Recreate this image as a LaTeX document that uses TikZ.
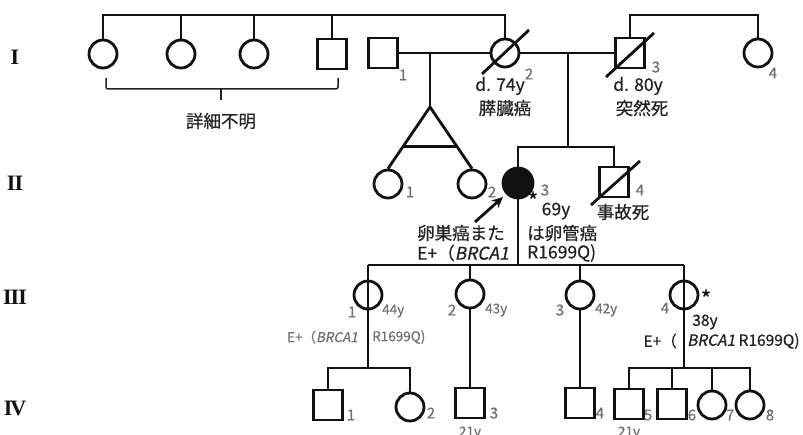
\documentclass[tikz,border=0pt]{standalone}
\usepackage{fontspec}
\setmainfont{Noto Sans CJK JP}[FakeBold=0.5]
\newfontfamily\jpit[FakeSlant=0.2,FakeBold=0.8]{Noto Sans CJK JP}
\newfontfamily\romf{Liberation Serif}
\usetikzlibrary{arrows.meta,calc}
\definecolor{ink}{HTML}{111111}
\definecolor{txt}{HTML}{222222}
\definecolor{numc}{HTML}{707070}
\tikzset{
  pline/.style={draw=ink,line width=2.8pt},
  fem/.style={circle,draw=ink,line width=2.8pt,minimum size=28pt,inner sep=0pt},
  affected/.style={circle,draw=ink,fill=ink,line width=2.8pt,minimum size=30pt,inner sep=0pt},
  male/.style={rectangle,draw=ink,line width=2.8pt,minimum width=29pt,minimum height=30pt,inner sep=0pt},
  jt/.style={font=\fontsize{17.5}{20}\selectfont,text=txt,inner sep=0pt},
  mt/.style={font=\fontsize{15.5}{18}\selectfont,text=txt,inner sep=0pt},
  sm/.style={font=\fontsize{13.5}{16}\selectfont,text=numc,inner sep=0pt},
  num/.style={font=\fontsize{15}{18}\selectfont,text=numc,inner sep=0pt},
  astk/.style={font=\fontsize{22}{22}\selectfont,text=ink,inner sep=0pt,text height=8pt,text depth=0pt},
  rowl/.style={font=\romf\bfseries\fontsize{22}{24}\selectfont,text=ink,inner sep=0pt},
  bracket/.style={draw=txt,line width=1.5pt,rounded corners=2pt},
}
\begin{document}
\begin{tikzpicture}[x=1pt,y=-1pt]
\useasboundingbox (0,0) rectangle (803,435);
\clip (0,0) rectangle (803,435);
\fill[white] (0,0) rectangle (803,435);

% generation labels
\node[rowl] (rI) at (15,57) {I};
\node[rowl] (rII) at (15,183) {I\kern-1pt I};
\node[rowl] (rIII) at (15,297) {I\kern-1pt I\kern-1pt I};
\node[rowl] (rIV) at (15,408) {I\kern-2pt V};

% ---------- generation I ----------
\node[fem] (u1) at (103,54) {};
\node[fem] (u2) at (181,54) {};
\node[fem] (u3) at (254,54) {};
\node[male] (u4) at (332,54) {};
\node[male] (i1) at (383,53) {};
\node[fem] (i2) at (505,53) {};
\node[male] (i3) at (630,53) {};
\node[fem] (i4) at (758,53) {};

\coordinate (top1) at (103,15);
\coordinate (top2) at (505,15);
\draw[pline] (u1.north) -- (u1.north |- top1) -- (top2) -- (i2.north);
\foreach \s in {u2,u3,u4} \draw[pline] (\s.north) -- (\s.north |- top1);
\draw[pline] (i3.north) -- (i3.north |- top1) -| (i4.north);

\draw[pline] ($(i2)+(-23,21)$) -- ($(i2)+(24,-23)$);
\draw[pline] ($(i3)+(-24,24)$) -- ($(i3)+(24,-20)$);

\draw[pline] (i1.east) -- (i2.west);
\draw[pline] (i2.east) -- (i3.west);

% bracket under unknown relatives
\draw[bracket] (106,78) -- (106,89) -- (338,89) -- (338,78);
\draw[bracket] (221,89) -- (221,100);
\node[jt] (shosai) at (221,121) {詳細不明};

\node[num] (ni1) at (403,75) {1};
\node[num] (ni2) at (529,74) {2};
\node[jt] (d74) at (500,86) {d. 74y};
\node[jt] (suizo) at (505,108) {膵臓癌};
\node[num] (ni3) at (656,67) {3};
\node[jt] (d80) at (638,86) {d. 80y};
\node[jt] (totsu) at (642,108) {突然死};
\node[num] (ni4) at (773,73) {4};

% ---------- generation II ----------
\coordinate (m1) at (430,53);
\coordinate (m2) at (568,53);
\coordinate (apex) at (430,107);
\node[fem] (ii1) at (388,184) {};
\node[fem] (ii2) at (472,184) {};
\node[affected] (ii3) at (518,183) {};
\node[male] (ii4) at (614,182) {};

\draw[pline] (m1) -- (apex);
\draw[pline] (ii1.north) -- (apex) -- (ii2.north);
\draw[pline] ($(apex)!0.635!(ii1.north)$) -- ($(apex)!0.635!(ii2.north)$);

\coordinate (s2) at (568,147);
\draw[pline] (m2) -- (s2);
\draw[pline] (ii3.north) |- (s2) -| (ii4.north);
\draw[pline] ($(ii4)+(-23,23)$) -- ($(ii4)+(26,-21)$);

\coordinate (arrtail) at (475,222);
\draw[pline,-{Stealth[length=11pt,width=10pt]}] (arrtail) -- ($(ii3)+(-15,14)$);

\node[num] (nii1) at (410,192) {1};
\node[num] (nii2) at (492,192) {2};
\node[astk] (ast3) at (533,205) {*};
\node[num] (nii3) at (545,190) {3};
\node[jt] (age69) at (556,211) {69y};
\node[jt] (jiko) at (623,212) {事故死};
\node[num] (nii4) at (640,190) {4};
\node[jt,anchor=west] (ransou) at (417,233) {卵巣癌また};
\node[jt,anchor=west] (hakan) at (527,233) {は卵管癌};
\node[jt,anchor=west] (eplus2) at (417,253) {E+（{\jpit BRCA1}};
\node[jt,anchor=west] (r2) at (527,253) {R1699Q)};

% ---------- generation III ----------
\coordinate (s3) at (518,265);
\node[fem] (iii1) at (368,295) {};
\node[fem] (iii2) at (470,294) {};
\node[fem] (iii3) at (580,295) {};
\node[fem] (iii4) at (684,295) {};

\draw[pline] (ii3.south) -- (s3);
\draw[pline] (iii1 |- s3) -- (iii4 |- s3);
\draw[pline] (iii2.north) -- (iii2 |- s3);
\draw[pline] (iii3.north) -- (iii3 |- s3);

\node[num] (niii1) at (352,312) {1};
\node[sm,anchor=west] (a44) at (382,311) {44y};
\node[sm,anchor=east] (e31) at (358,337) {E+（{\jpit BRCA1}};
\node[sm,anchor=west] (r31) at (372,337) {R1699Q)};
\node[num] (niii2) at (452,310) {2};
\node[sm,anchor=west] (a43) at (485,310) {43y};
\node[num] (niii3) at (560,310) {3};
\node[sm,anchor=west] (a42) at (595,310) {42y};
\node[num] (niii4) at (665,308) {4};
\node[astk] (ast4) at (706,303) {*};
\node[mt] (a38) at (705,322) {38y};
\node[mt,anchor=east] (e34) at (677,341) {E+（};
\node[mt,anchor=west] (r34) at (687,341) {{\jpit BRCA1} R1699Q)};

% ---------- generation IV ----------
\coordinate (s4a) at (368,368);
\coordinate (s4b) at (684,368);
\node[male] (iv1) at (328,405) {};
\node[fem] (iv2) at (410,407) {};
\node[male] (iv3) at (470,403) {};
\node[male] (iv4) at (580,403) {};
\node[male] (iv5) at (629,404) {};
\node[male] (iv6) at (672,404) {};
\node[fem] (iv7) at (712,405) {};
\node[fem] (iv8) at (750,405) {};

\draw[pline] (iii1 |- s3) -- (s4a);
\draw[pline] (iii4 |- s3) -- (s4b);
\draw[pline] (iv1.north) |- (s4a) -| (iv2.north);
\draw[pline] (iv5.north) |- (s4b) -| (iv8.north);
\draw[pline] (iv6.north) -- (iv6 |- s4b);
\draw[pline] (iv7.north) -- (iv7 |- s4b);
\draw[pline] (iii2.south) -- (iv3.north);
\draw[pline] (iii3.south) -- (iv4.north);

\node[num] (niv1) at (351,415) {1};
\node[num] (niv2) at (431,413) {2};
\node[num] (niv3) at (494,413) {3};
\node[num] (niv4) at (600,413) {4};
\node[num] (niv5) at (648,415) {5};
\node[num] (niv6) at (692,415) {6};
\node[num] (niv7) at (730,415) {7};
\node[num] (niv8) at (770,415) {8};
\node[sm] (y21a) at (470,433) {21y};
\node[sm] (y21b) at (629,433) {21y};
\end{tikzpicture}
\end{document}
